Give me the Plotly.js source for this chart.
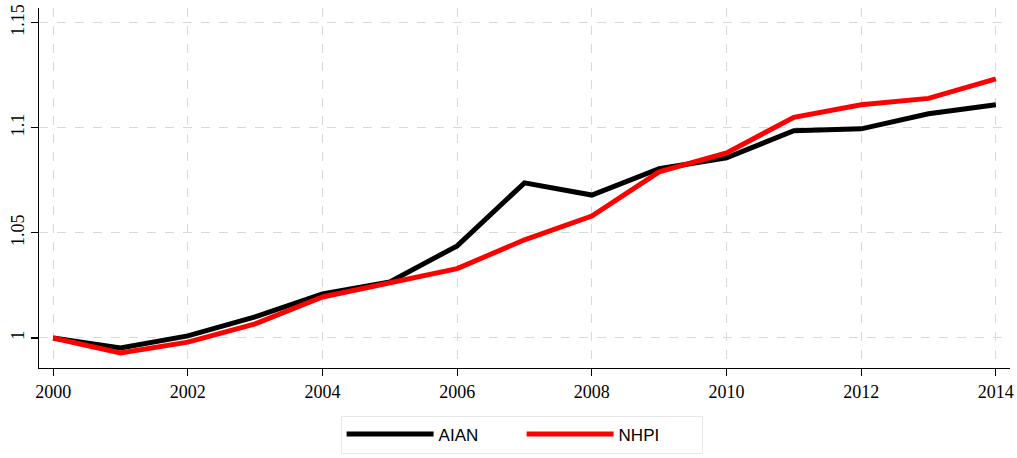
<!DOCTYPE html>
<html>
<head>
<meta charset="utf-8">
<script src="https://cdn.plot.ly/plotly-3.0.1.min.js"></script>
<style>html,body{margin:0;padding:0;background:#fff;}#chart{width:1017px;height:458px;}</style>
</head>
<body>
<div id="chart"></div>
<script>
var years = [2000,2001,2002,2003,2004,2005,2006,2007,2008,2009,2010,2011,2012,2013,2014];
var aian = [1.000,0.9952,1.001,1.010,1.021,1.0267,1.0438,1.0738,1.068,1.0805,1.0857,1.0986,1.0995,1.1067,1.111];
var nhpi = [1.000,0.9929,0.998,1.0067,1.0195,1.026,1.033,1.0467,1.058,1.079,1.088,1.105,1.111,1.114,1.1233];
var xTicks = [2000,2002,2004,2006,2008,2010,2012,2014];
var yTicks = [1,1.05,1.1,1.15];
var yTickText = ['1','1.05','1.1','1.15'];

var traces = [
  {x: years, y: aian, name: 'AIAN', type: 'scatter', mode: 'lines',
   line: {color: '#000000', width: 5}},
  {x: years, y: nhpi, name: 'NHPI', type: 'scatter', mode: 'lines',
   line: {color: '#ff0000', width: 5}}
];

var layout = {
  width: 1017, height: 458,
  margin: {l: 39, r: 7, t: 8, b: 90, autoexpand: false},
  paper_bgcolor: '#fff', plot_bgcolor: '#fff',
  font: {family: 'Liberation Serif, Times New Roman, serif', size: 18, color: '#000'},
  xaxis: {
    range: [1999.79, 2014.21], tickvals: xTicks, ticktext: xTicks.map(String),
    showline: true, linecolor: '#000', linewidth: 1.2,
    ticks: 'outside', ticklen: 7, tickcolor: '#000', tickwidth: 1.2,
    showgrid: true, gridcolor: '#d9d9d9', griddash: 'dash', gridwidth: 1,
    zeroline: false, tickfont: {size: 18}
  },
  yaxis: {
    range: [0.9857, 1.157], tickvals: yTicks, ticktext: yTickText,
    showline: true, linecolor: '#000', linewidth: 1.2,
    ticks: 'outside', ticklen: 7, tickcolor: '#000', tickwidth: 1.2,
    showgrid: true, gridcolor: '#d9d9d9', griddash: 'dash', gridwidth: 1,
    zeroline: false, tickangle: -90, tickfont: {size: 18}
  },
  showlegend: true,
  legend: {
    orientation: 'h', x: 0.497, xanchor: 'center', y: -0.132, yanchor: 'top',
    bgcolor: '#fff', bordercolor: '#e8e8e8', borderwidth: 1,
    font: {family: 'Liberation Sans, Arial, sans-serif', size: 17, color: '#000'},
    itemwidth: 87, entrywidth: 78, entrywidthmode: 'pixels',
    traceorder: 'normal'
  }
};

Plotly.newPlot('chart', traces, layout, {displayModeBar: false, staticPlot: true});
</script>
</body>
</html>
